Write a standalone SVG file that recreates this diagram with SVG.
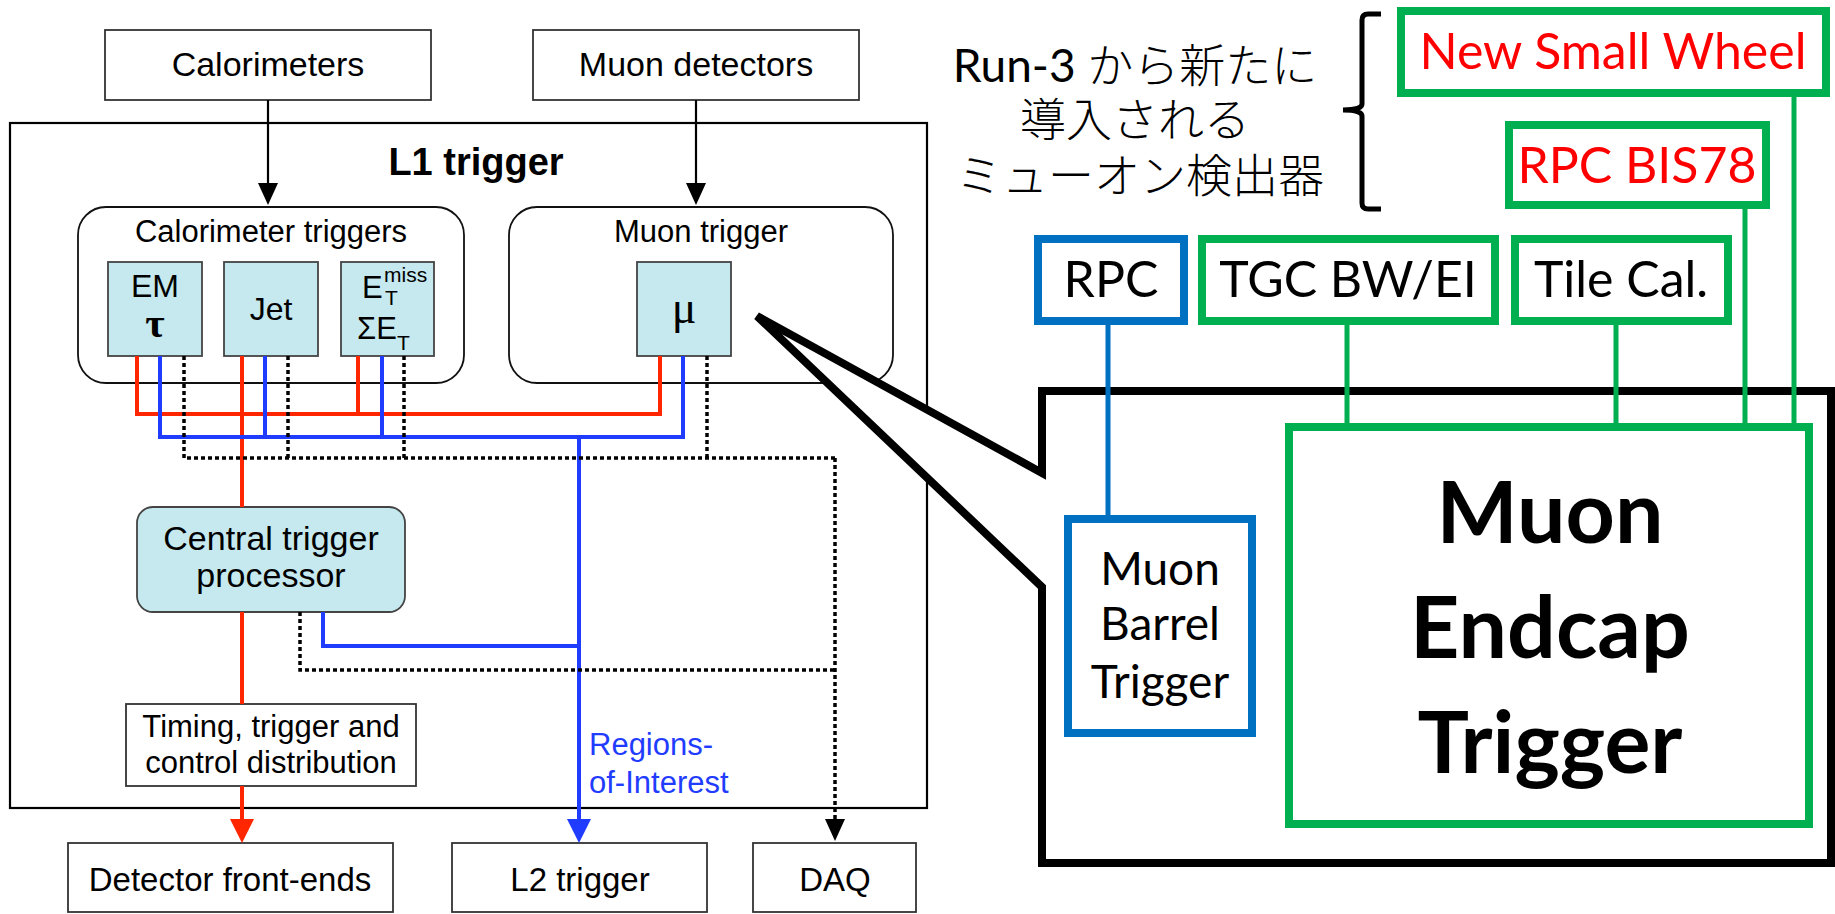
<svg xmlns="http://www.w3.org/2000/svg" width="1835" height="914" viewBox="0 0 1835 914">
<defs>
<style>
.box{fill:#fff;stroke:#333;stroke-width:1.8}
.cyan{fill:#c5e9ee;stroke:#444;stroke-width:1.8}
.round{fill:#fff;stroke:#111;stroke-width:1.8}
.t{font-family:"Liberation Sans",Arial,sans-serif;fill:#000;text-anchor:middle}
.s{font-family:"Liberation Sans",Arial,sans-serif;fill:#000}
.sym{font-family:"Liberation Serif","Times New Roman",serif;fill:#000;text-anchor:middle}
.red{stroke:#ff2600;stroke-width:4;fill:none}
.blue{stroke:#1f3cff;stroke-width:4;fill:none}
.dot{stroke:#000;stroke-width:3.5;stroke-dasharray:4 3;fill:none}
.blk{stroke:#000;stroke-width:2.2;fill:none}
.g{fill:#fff;stroke:#00b050;stroke-width:8}
.b{fill:#fff;stroke:#0070c0;stroke-width:8}
.gl{stroke:#00b050;stroke-width:5;fill:none}
.bl{stroke:#0070c0;stroke-width:5;fill:none}
.c{font-family:Lato,"Open Sans","Noto Sans",sans-serif;text-anchor:middle;fill:#000}
.jp{font-family:Lato,"Noto Sans CJK JP",sans-serif;text-anchor:middle;fill:#000;font-size:46px}
</style>
<marker id="aK" markerUnits="userSpaceOnUse" markerWidth="22" markerHeight="20" viewBox="0 0 22 20" refX="14" refY="10" orient="auto"><path d="M0,0 L22,10 L0,20 z" fill="#000"/></marker>
<marker id="aR" markerUnits="userSpaceOnUse" markerWidth="24" markerHeight="24" viewBox="0 0 24 24" refX="14" refY="12" orient="auto"><path d="M0,0 L24,12 L0,24 z" fill="#ff2600"/></marker>
<marker id="aB" markerUnits="userSpaceOnUse" markerWidth="24" markerHeight="24" viewBox="0 0 24 24" refX="14" refY="12" orient="auto"><path d="M0,0 L24,12 L0,24 z" fill="#1f3cff"/></marker>
</defs>

<g id="l1-trigger">
<rect x="10" y="123" width="917" height="685" fill="#fff" stroke="#000" stroke-width="2.2"/>
<text class="t" x="476" y="175" font-size="38" font-weight="bold">L1 trigger</text>
</g>
<g id="calorimeters"><rect class="box" x="105" y="30" width="326" height="70"/><text class="t" x="268" y="76" font-size="34">Calorimeters</text></g>
<g id="muon-detectors"><rect class="box" x="533" y="30" width="326" height="70"/><text class="t" x="696" y="76" font-size="34">Muon detectors</text></g>
<g id="calo-triggers"><rect class="round" x="78" y="207" width="386" height="176" rx="28"/><text class="t" x="271" y="242" font-size="31">Calorimeter triggers</text></g>
<g id="muon-trigger"><rect class="round" x="509" y="207" width="384" height="176" rx="28"/><text class="t" x="701" y="242" font-size="31">Muon trigger</text></g>
<g id="em-tau"><rect class="cyan" x="108" y="262" width="94" height="94"/><text class="t" x="155" y="297" font-size="32">EM</text><text class="sym" x="155" y="337" font-size="42" font-weight="bold">τ</text></g>
<g id="jet"><rect class="cyan" x="224" y="262" width="94" height="94"/><text class="t" x="271" y="320" font-size="32">Jet</text></g>
<g id="etmiss"><rect class="cyan" x="341" y="262" width="93" height="94"/>
<text class="s" x="362" y="298" font-size="31">E<tspan x="384" y="282" font-size="21">miss</tspan><tspan x="385" y="305" font-size="21">T</tspan><tspan x="357" y="339">ΣE</tspan><tspan x="397" y="350" font-size="21">T</tspan></text></g>
<g id="mu"><rect class="cyan" x="637" y="262" width="94" height="94"/><text class="sym" x="684" y="323" font-size="46">μ</text></g>
<g id="ctp"><rect class="cyan" x="137" y="507" width="268" height="105" rx="16"/><text class="t" x="271" y="550" font-size="34">Central trigger</text><text class="t" x="271" y="587" font-size="34">processor</text></g>
<g id="ttc"><rect class="box" x="126" y="704" width="290" height="82"/><text class="t" x="271" y="737" font-size="31">Timing, trigger and</text><text class="t" x="271" y="773" font-size="31">control distribution</text></g>
<g id="front-ends"><rect class="box" x="68" y="843" width="325" height="69"/><text class="t" x="230" y="891" font-size="33">Detector front-ends</text></g>
<g id="l2"><rect class="box" x="452" y="843" width="255" height="69"/><text class="t" x="580" y="891" font-size="33">L2 trigger</text></g>
<g id="daq"><rect class="box" x="753" y="843" width="163" height="69"/><text class="t" x="835" y="891" font-size="33">DAQ</text></g>
<text id="roi" class="s" x="589" y="755" font-size="31" style="fill:#1f3cff">Regions-<tspan x="589" y="793">of-Interest</tspan></text>

<g id="left-connectors">
<path class="blk" d="M268,100 V197" marker-end="url(#aK)"/>
<path class="blk" d="M696,100 V197" marker-end="url(#aK)"/>
<path class="red" d="M137,356 V414 H660 V356 M358,356 V414 M242,356 V507 M242,612 V704"/>
<path class="red" d="M242,786 V833" marker-end="url(#aR)"/>
<path class="blue" d="M160,356 V437 H683 V356 M265,356 V437 M382,356 V437 M323,612 V646 H579"/>
<path class="blue" d="M579,437 V833" marker-end="url(#aB)"/>
<path class="dot" d="M184,356 V458 H835 M288,356 V458 M404,356 V458 M707,356 V458 M300,612 V670 H835"/>
<path class="dot" d="M835,458 V833" marker-end="url(#aK)"/>
</g>

<g id="callout">
<path d="M1042,473 L757,316 L1042,587 L1042,863 L1831,863 L1831,391 L1042,391 Z" fill="#fff" stroke="#000" stroke-width="8" stroke-linejoin="miter" stroke-miterlimit="4"/>
</g>

<g id="brace"><path d="M1381,14 H1368 Q1362,14 1362,20 V104 Q1362,110 1343,110 Q1362,110 1362,116 V203 Q1362,209 1368,209 H1381" fill="none" stroke="#000" stroke-width="5"/></g>
<g id="note">
<text class="jp" x="1135" y="82"><tspan>Run-3 </tspan><tspan font-weight="300">から新たに</tspan></text>
<text class="jp" x="1135" y="136" font-weight="300">導入される</text>
<text class="jp" x="1140" y="192" font-weight="300">ミューオン検出器</text>
</g>

<g id="right-connectors">
<path class="bl" d="M1108,325 V515"/>
<path class="gl" d="M1347,325 V427 M1616,325 V427 M1745,209 V427 M1794,97 V427"/>
</g>

<g id="nsw"><rect class="g" x="1401" y="11" width="425" height="82"/><text class="c" x="1613" y="69" font-size="50" style="fill:#ff0000">New Small Wheel</text></g>
<g id="bis78"><rect class="g" x="1509" y="125" width="257" height="80"/><text class="c" x="1637" y="183" font-size="50" style="fill:#ff0000">RPC BIS78</text></g>
<g id="rpc"><rect class="b" x="1038" y="239" width="146" height="82"/><text class="c" x="1111" y="297" font-size="50">RPC</text></g>
<g id="tgc"><rect class="g" x="1202" y="239" width="293" height="82"/><text class="c" x="1348" y="297" font-size="50">TGC BW/EI</text></g>
<g id="tile"><rect class="g" x="1515" y="239" width="213" height="82"/><text class="c" x="1621" y="297" font-size="50">Tile Cal.</text></g>
<g id="barrel"><rect class="b" x="1068" y="519" width="184" height="214"/><text class="c" x="1160" y="585" font-size="46">Muon</text><text class="c" x="1160" y="640" font-size="46">Barrel</text><text class="c" x="1160" y="698" font-size="46">Trigger</text></g>
<g id="endcap"><rect class="g" x="1289" y="427" width="520" height="397"/><text class="c" x="1550" y="543" font-size="86" font-weight="bold">Muon</text><text class="c" x="1550" y="658" font-size="86" font-weight="bold">Endcap</text><text class="c" x="1550" y="773" font-size="86" font-weight="bold">Trigger</text></g>
</svg>
